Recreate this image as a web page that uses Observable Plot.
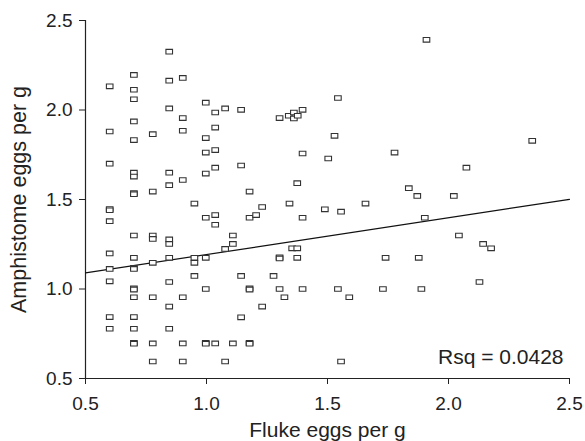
<!DOCTYPE html>
<html>
<head>
<meta charset="utf-8">
<script src="https://cdn.jsdelivr.net/npm/d3@7"></script>
<script src="https://cdn.jsdelivr.net/npm/@observablehq/plot@0.6"></script>
<style>
  html, body { margin: 0; padding: 0; background: #fff; }
  #chart svg { display: block; }
</style>
</head>
<body>
<div id="chart"></div>
<script>
// Fluke eggs per g (x) and Amphistome eggs per g (y)
const flukeEggs = [
  0.6, 0.6, 0.6, 0.6, 0.6, 0.6, 0.6, 0.6, 0.6, 0.6, 0.6,
  0.7, 0.7, 0.7, 0.7, 0.7, 0.7, 0.7, 0.7, 0.7, 0.7, 0.7, 0.7, 0.7, 0.7, 0.7, 0.7, 0.7, 0.7, 0.7, 0.7,
  0.778, 0.778, 0.778, 0.778, 0.778, 0.778, 0.778, 0.778,
  0.846, 0.846, 0.846, 0.846, 0.846, 0.846, 0.846, 0.846, 0.846, 0.846, 0.846,
  0.902, 0.902, 0.902, 0.902, 0.902, 0.902, 0.902,
  0.95, 0.95, 0.95, 0.95,
  0.997, 0.997, 0.997, 0.997, 0.997, 0.997, 0.997, 0.997, 0.997,
  1.036, 1.036, 1.036, 1.036, 1.036, 1.036, 1.036,
  1.077, 1.077, 1.077,
  1.109, 1.109, 1.109,
  1.143, 1.143, 1.143, 1.143,
  1.178, 1.178, 1.178, 1.178, 1.178, 1.178,
  1.205, 1.23, 1.23, 1.277,
  1.302, 1.302, 1.302, 1.302, 1.322,
  1.34, 1.343, 1.354, 1.375,
  1.361, 1.361,
  1.377, 1.375, 1.375,
  1.397, 1.397, 1.397, 1.397,
  1.489, 1.503, 1.529, 1.543, 1.543, 1.556, 1.556, 1.59, 1.657,
  1.729, 1.74, 1.777, 1.836, 1.871, 1.877, 1.888, 1.902, 1.909,
  2.022, 2.043, 2.074, 2.128, 2.143, 2.176, 2.346
];
const amphistomeEggs = [
  2.132, 1.88, 1.70, 1.447, 1.440, 1.379, 1.199, 1.112, 1.043, 0.843, 0.778,
  2.196, 2.113, 2.06, 1.936, 1.832, 1.65, 1.628, 1.536, 1.530, 1.299, 1.174, 1.118, 1.112, 1.003, 0.997, 0.954, 0.843, 0.778, 0.699, 0.694,
  1.865, 1.544, 1.299, 1.28, 1.146, 0.954, 0.696, 0.595,
  2.326, 2.164, 2.009, 1.65, 1.58, 1.277, 1.252, 1.174, 1.039, 0.902, 0.778,
  2.179, 1.955, 1.884, 1.609, 0.954, 0.696, 0.595,
  1.477, 1.174, 1.146, 1.073,
  2.041, 1.843, 1.762, 1.645, 1.398, 1.174, 1.0, 0.699, 0.694,
  1.986, 1.902, 1.776, 1.678, 1.413, 1.359, 0.696,
  2.009, 1.224, 0.595,
  1.299, 1.252, 0.696,
  2.001, 1.69, 1.073, 0.842,
  1.544, 1.398, 1.003, 0.997, 0.699, 0.694,
  1.413, 1.458, 0.902, 1.073,
  1.955, 1.177, 1.171, 1.0, 0.954,
  1.968, 1.477, 1.227, 1.227,
  1.986, 1.953,
  1.968, 1.591, 1.174,
  2.001, 1.757, 1.398, 1.0,
  1.445, 1.729, 1.856, 2.067, 1.0, 1.432, 0.595, 0.954, 1.477,
  1.0, 1.174, 1.762, 1.563, 1.52, 1.174, 1.0, 1.398, 2.392,
  1.52, 1.299, 1.678, 1.039, 1.252, 1.227, 1.828
];
const xTicks = [0.5, 1.0, 1.5, 2.0, 2.5];
const yTicks = [0.5, 1.0, 1.5, 2.0, 2.5];
const fitIntercept = 0.987;
const fitSlope = 0.2055;
const fitRange = [0.5, 2.5];
const xLabel = "Fluke eggs per g";
const yLabel = "Amphistome eggs per g";
const rsqLabel = "Rsq = 0.0428";

const points = flukeEggs.map((x, i) => ({x, y: amphistomeEggs[i]}));
const fit = fitRange.map(x => ({x, y: fitIntercept + fitSlope * x}));

const rectSymbol = {
  draw(context) {
    const w = 6.6, h = 4.6;
    context.rect(-w / 2, -h / 2, w, h);
  }
};

const font = "'Liberation Sans', Arial, Helvetica, sans-serif";

const chart = Plot.plot({
  width: 585,
  height: 441,
  marginLeft: 85,
  marginRight: 16,
  marginTop: 20,
  marginBottom: 63,
  style: {fontFamily: font, color: "#222", background: "#fff"},
  x: {domain: [0.5, 2.5]},
  y: {domain: [0.5, 2.5]},
  marks: [
    Plot.axisX({ticks: xTicks, tickFormat: d3.format(".1f"), tickSize: 6, tickPadding: 12, fontSize: 19, label: null, stroke: "#222"}),
    Plot.axisY({ticks: yTicks, tickFormat: d3.format(".1f"), tickSize: 6, tickPadding: 7, fontSize: 19, label: null, stroke: "#222"}),
    Plot.ruleX([0.5], {stroke: "#222", strokeWidth: 1.2}),
    Plot.ruleY([0.5], {stroke: "#222", strokeWidth: 1.2}),
    Plot.line(fit, {x: "x", y: "y", stroke: "#111", strokeWidth: 1.2}),
    Plot.dot(points, {x: "x", y: "y", symbol: rectSymbol, r: 3, stroke: "#333", strokeWidth: 1.1, fill: "white"}),
    Plot.text([rsqLabel], {frameAnchor: "bottom-right", dx: -6, dy: -15, textAnchor: "end", lineAnchor: "bottom", fontSize: 21, fill: "#222"}),
    Plot.text([xLabel], {frameAnchor: "bottom", dy: 58, lineAnchor: "bottom", textAnchor: "middle", fontSize: 21, fill: "#222", style: "letter-spacing:0.3px"}),
    Plot.text([yLabel], {frameAnchor: "left", dx: -66, rotate: -90, lineAnchor: "middle", textAnchor: "middle", fontSize: 21.5, fill: "#222"})
  ]
});

document.getElementById("chart").appendChild(chart);
</script>
</body>
</html>
